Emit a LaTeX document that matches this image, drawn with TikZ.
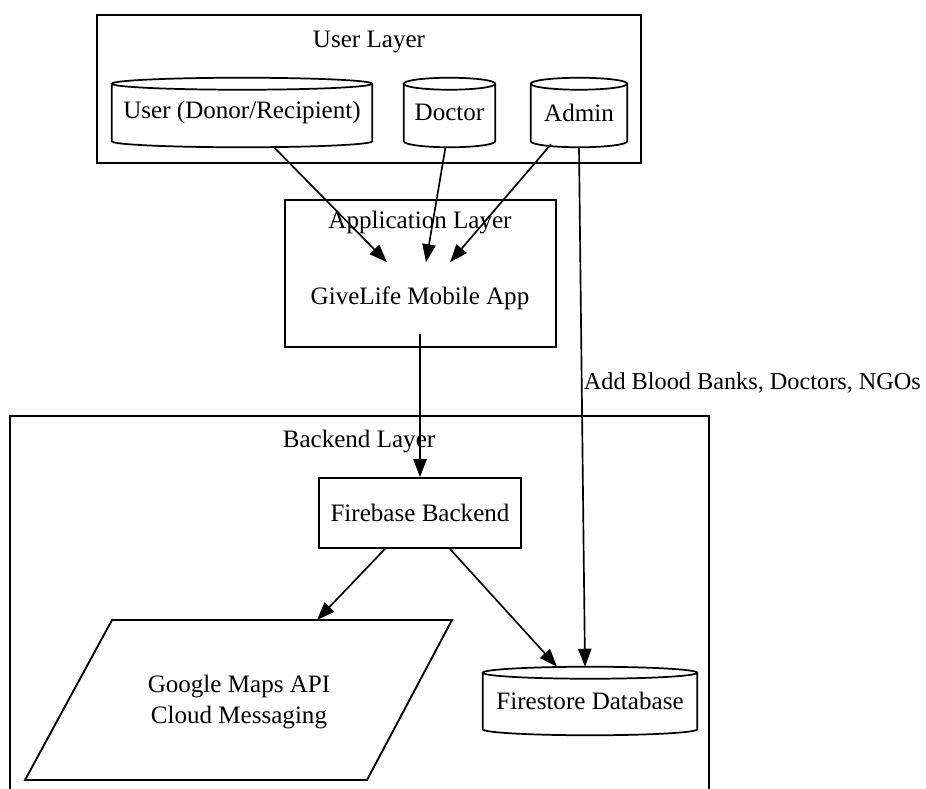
\documentclass[tikz,border=0pt]{standalone}
\usepackage{fontspec}
\setmainfont{Liberation Serif}
\usetikzlibrary{fit,calc,arrows.meta}
\begin{document}
\begin{tikzpicture}[x=0.75pt,y=-0.75pt,
  every node/.style={font=\fontsize{18.8}{23}\selectfont, inner sep=0pt},
  sz/.style 2 args={minimum width=#1*0.75pt, minimum height=#2*0.75pt},
  box/.style={draw, line width=1.4pt},
  arr/.style={line width=1.25pt, -{Triangle[length=13.5pt,width=10pt]}},
  cylline/.style={line width=1.3pt},
  edgelabel/.style={font=\fontsize{18.2}{22}\selectfont}]
\useasboundingbox (0,0) rectangle (926,789);

% User layer
\node[box, fit={(97,15) (641,163)}] (ulay) {};
\node (ultitle) at (369,42) {User Layer};
\node[sz={260}{69}] (user) at (242,112.5) {User (Donor/Recipient)};
\node[sz={91}{69}] (doctor) at (449.5,112.5) {Doctor};
\node[sz={96}{69}] (admin) at (579,112.5) {Admin};

% Application layer
\node[box, fit={(285,200) (556,347)}] (applay) {};
\node (apptitle) at (420,223) {Application Layer};
\node[sz={240}{71}] (app) at (420,298) {GiveLife Mobile App};

% Backend layer
\draw[box] (10,795) -- (10,416) -- (709,416) -- (709,795);
\node (btitle) at (359,442) {Backend Layer};
\node[box, sz={202}{70}] (fb) at (420,513) {Firebase Backend};
\draw[box] (112,620) -- (452,620) -- (367,780) -- (25,780) -- cycle;
\node[align=center] (gm) at (239,702) {Google Maps API\\Cloud Messaging};
\coordinate (gmin) at (317,620);
\node[sz={214}{68}] (fs) at (590,701) {Firestore Database};

% cylinder outlines
\foreach \c in {user,doctor,admin,fs}{
  \draw[cylline] let \p1=(\c.north west), \p2=(\c.south east), \n1={(\x2-\x1)/2} in
    (\x1,\y1-4.5pt) -- (\x1,\y2+4.5pt)
    arc[start angle=180,end angle=360,x radius=\n1,y radius=4.5pt]
    -- (\x2,\y1-4.5pt)
    arc[start angle=0,end angle=360,x radius=\n1,y radius=4.5pt];
}

% connectors
\draw[arr] ($(user.south)+(32,0)$) -- ($(app.north)+(-33,0)$);
\draw[arr] ($(doctor.south)+(-4,0)$) -- ($(app.north)+(6,0)$);
\draw[arr] ($(admin.south)+(-28,-3)$) -- ($(app.north)+(30,0)$);
\draw[arr] (app.south) -- (fb.north);
\draw[arr] (admin.south) -- node[pos=0.454, right=1pt, edgelabel] (lbl) {Add Blood Banks, Doctors, NGOs} ($(fs.north)+(-5,0)$);
\draw[arr] ($(fb.south)+(-35,0)$) -- (gmin);
\draw[arr] ($(fb.south)+(30,0)$) -- ($(fs.north)+(-33,0)$);
\end{tikzpicture}
\end{document}
